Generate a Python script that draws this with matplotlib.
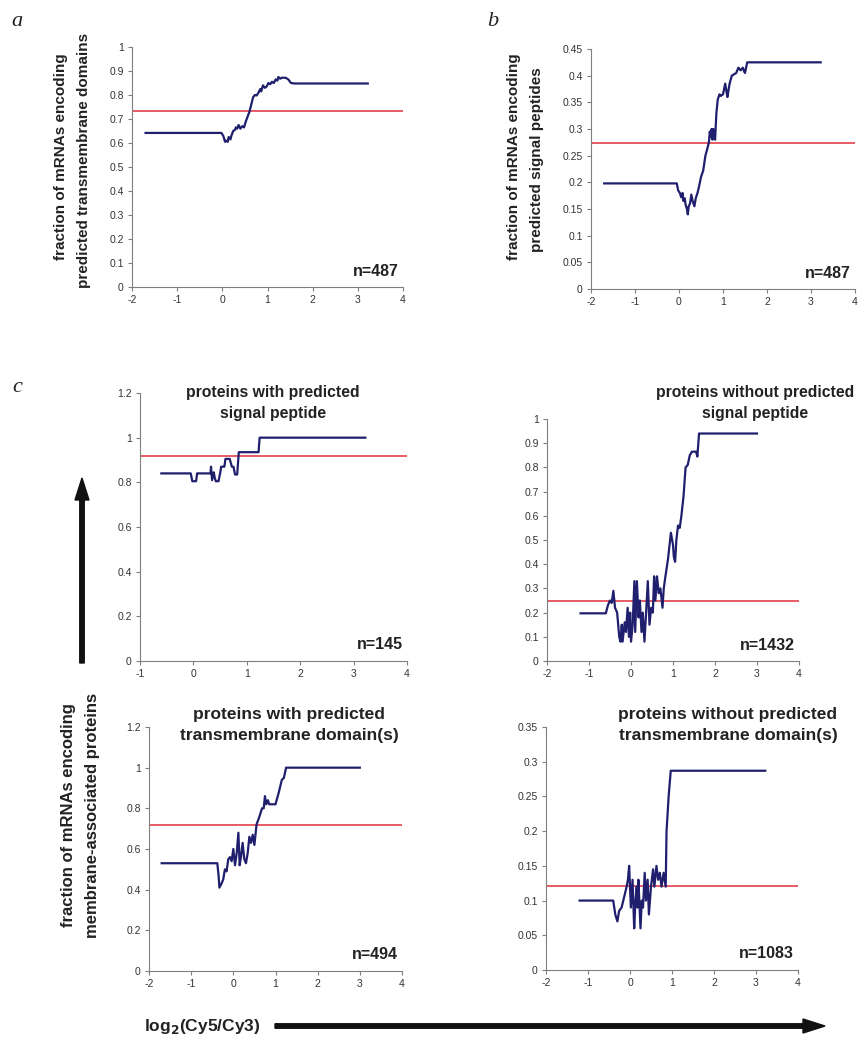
import matplotlib
matplotlib.use("Agg")
import matplotlib.pyplot as plt
from matplotlib.ticker import MultipleLocator

plt.rcParams['font.family'] = ['Liberation Sans', 'DejaVu Sans']
plt.rcParams['axes.unicode_minus'] = False

# panel a: transmembrane domains, all mRNAs
a_x = [-1.7, -0.02, 0.02, 0.06, 0.08, 0.12, 0.14, 0.18, 0.2, 0.24, 0.28, 0.3, 0.33, 0.36,
       0.4, 0.44, 0.48, 0.52, 0.56, 0.6, 0.64, 0.68, 0.72, 0.76, 0.8, 0.84, 0.86, 0.9, 0.94,
       0.98, 1.02, 1.06, 1.1, 1.14, 1.18, 1.22, 1.24, 1.28, 1.32, 1.4, 1.46, 1.52, 1.6, 3.22]
a_y = [0.642, 0.642, 0.63, 0.605, 0.61, 0.605, 0.625, 0.615, 0.63, 0.65, 0.655, 0.665, 0.66,
       0.675, 0.66, 0.67, 0.665, 0.69, 0.71, 0.73, 0.76, 0.79, 0.8, 0.798, 0.81, 0.825, 0.815,
       0.84, 0.83, 0.835, 0.85, 0.845, 0.855, 0.85, 0.865, 0.86, 0.875, 0.868, 0.872, 0.872,
       0.865, 0.85, 0.848, 0.848]
a_ref = 0.733

# panel b: signal peptides, all mRNAs
b_x = [-1.7, -0.05, -0.02, 0.02, 0.05, 0.08, 0.1, 0.13, 0.15, 0.18, 0.2, 0.22, 0.25, 0.28,
       0.31, 0.35, 0.38, 0.42, 0.45, 0.5, 0.55, 0.6, 0.64, 0.68, 0.7, 0.72, 0.74, 0.76, 0.78,
       0.8, 0.82, 0.85, 0.88, 0.92, 0.95, 1.0, 1.05, 1.08, 1.1, 1.15, 1.2, 1.3, 1.35, 1.4,
       1.45, 1.48, 1.5, 1.55, 3.22]
b_y = [0.198, 0.198, 0.185, 0.18, 0.172, 0.18, 0.165, 0.17, 0.158, 0.15, 0.14, 0.155, 0.16,
       0.177, 0.165, 0.155, 0.17, 0.18, 0.19, 0.21, 0.222, 0.25, 0.262, 0.275, 0.295, 0.285,
       0.3, 0.28, 0.3, 0.29, 0.28, 0.33, 0.355, 0.365, 0.362, 0.365, 0.385, 0.37, 0.36, 0.385,
       0.4, 0.405, 0.415, 0.41, 0.415, 0.408, 0.405, 0.425, 0.425]
b_ref = 0.273

# panel c, top left: with predicted signal peptide
c1_x = [-0.6, -0.05, -0.02, 0.05, 0.07, 0.32, 0.33, 0.35, 0.38, 0.4, 0.42, 0.47, 0.5, 0.52,
        0.58, 0.6, 0.68, 0.72, 0.75, 0.78, 0.82, 0.85, 1.22, 1.24, 3.22]
c1_y = [0.84, 0.84, 0.805, 0.805, 0.84, 0.84, 0.87, 0.81, 0.845, 0.82, 0.805, 0.805, 0.84,
        0.87, 0.87, 0.905, 0.905, 0.87, 0.87, 0.835, 0.835, 0.935, 0.935, 1.0, 1.0]
c1_ref = 0.918

# panel c, top right: without predicted signal peptide
c2_x = [-1.2, -0.6, -0.55, -0.5, -0.46, -0.42, -0.38, -0.33, -0.28, -0.25, -0.22, -0.2,
        -0.15, -0.12, -0.08, -0.05, -0.02, 0.0, 0.04, 0.08, 0.1, 0.14, 0.18, 0.21, 0.25, 0.28,
        0.32, 0.36, 0.4, 0.44, 0.48, 0.52, 0.55, 0.58, 0.62, 0.66, 0.7, 0.75, 0.78, 0.82,
        0.88, 0.95, 1.0, 1.02, 1.05, 1.08, 1.12, 1.16, 1.2, 1.25, 1.3, 1.35, 1.4, 1.45,
        1.55, 1.58, 1.62, 3.0]
c2_y = [0.197, 0.197, 0.23, 0.25, 0.24, 0.29, 0.22, 0.2, 0.1, 0.08, 0.15, 0.08, 0.16, 0.12,
        0.22, 0.1, 0.2, 0.08, 0.15, 0.33, 0.12, 0.33, 0.18, 0.25, 0.12, 0.2, 0.08, 0.2, 0.33,
        0.15, 0.22, 0.2, 0.35, 0.25, 0.35, 0.28, 0.3, 0.22, 0.3, 0.35, 0.42, 0.53, 0.48,
        0.43, 0.41, 0.5, 0.56, 0.55, 0.6, 0.68, 0.8, 0.81, 0.85, 0.865, 0.865, 0.845, 0.94,
        0.94]
c2_ref = 0.25

# panel c, bottom left: with predicted transmembrane domain(s)
c3_x = [-1.7, -0.38, -0.35, -0.33, -0.28, -0.24, -0.2, -0.16, -0.12, -0.08, -0.04, 0.0,
        0.04, 0.08, 0.12, 0.15, 0.18, 0.22, 0.26, 0.3, 0.34, 0.38, 0.42, 0.46, 0.5, 0.55,
        0.62, 0.68, 0.72, 0.75, 0.78, 0.82, 0.85, 1.0, 1.08, 1.15, 1.2, 1.25, 3.0]
c3_y = [0.53, 0.53, 0.47, 0.41, 0.43, 0.45, 0.5, 0.49, 0.55, 0.56, 0.54, 0.6, 0.52, 0.58,
        0.68, 0.52, 0.56, 0.63, 0.55, 0.53, 0.58, 0.66, 0.63, 0.67, 0.62, 0.72, 0.76, 0.8,
        0.8, 0.86, 0.82, 0.84, 0.82, 0.82, 0.88, 0.94, 0.95, 1.0, 1.0]
c3_ref = 0.72

# panel c, bottom right: without predicted transmembrane domain(s)
c4_x = [-1.2, -0.4, -0.35, -0.3, -0.26, -0.2, -0.16, -0.12, -0.08, -0.05, -0.02, 0.02,
        0.06, 0.1, 0.13, 0.16, 0.18, 0.2, 0.25, 0.28, 0.31, 0.35, 0.38, 0.42, 0.45, 0.5,
        0.55, 0.58, 0.63, 0.67, 0.71, 0.75, 0.8, 0.85, 0.87, 0.92, 0.97, 3.22]
c4_y = [0.1, 0.1, 0.08, 0.07, 0.085, 0.09, 0.1, 0.11, 0.12, 0.13, 0.15, 0.09, 0.13, 0.06,
        0.1, 0.12, 0.09, 0.13, 0.06, 0.1, 0.09, 0.14, 0.1, 0.13, 0.08, 0.12, 0.145, 0.12,
        0.15, 0.13, 0.14, 0.12, 0.14, 0.12, 0.2, 0.25, 0.287, 0.287]
c4_ref = 0.121

W, H = 867, 1040
navy = '#1f1f6e'
red = '#e0303c'
grey = '#7f7f7f'

fig = plt.figure(figsize=(W / 100, H / 100), dpi=100)


def px_axes(x0, x1, y_top, y_bot):
    return fig.add_axes([x0 / W, 1 - y_bot / H, (x1 - x0) / W, (y_bot - y_top) / H])


def style(ax, xlim, ylim, ystep):
    ax.set_xlim(*xlim)
    ax.set_ylim(*ylim)
    ax.xaxis.set_major_locator(MultipleLocator(1))
    ax.yaxis.set_major_locator(MultipleLocator(ystep))
    ax.yaxis.set_major_formatter(plt.FuncFormatter(lambda v, p: ('%.2f' % v).rstrip('0').rstrip('.')))
    for s in ['top', 'right']:
        ax.spines[s].set_visible(False)
    for s in ['left', 'bottom']:
        ax.spines[s].set_color(grey)
        ax.spines[s].set_linewidth(0.8)
    ax.tick_params(direction='out', length=3, width=0.8, color=grey,
                   labelsize=7.5, labelcolor='#333333', pad=3)


def panel(ax, x, y, ref, n):
    ax.plot(x, y, color=navy, lw=1.6, zorder=3)
    ax.axhline(ref, color=red, lw=1.1, zorder=2)
    ax.text(0.985, 0.035, n, transform=ax.transAxes, ha='right', va='bottom',
            fontsize=11.5, fontweight='bold', color='#222222')


# panel a
ax = px_axes(132, 403, 47, 287)
style(ax, (-2, 4), (0, 1), 0.1)
panel(ax, a_x, a_y, a_ref, 'n=487')

# panel b
ax = px_axes(591, 855, 49, 289)
style(ax, (-2, 4), (0, 0.45), 0.05)
panel(ax, b_x, b_y, b_ref, 'n=487')

# panel c
ax = px_axes(140, 407, 393, 661)
style(ax, (-1, 4), (0, 1.2), 0.2)
panel(ax, c1_x, c1_y, c1_ref, 'n=145')

ax = px_axes(547, 799, 419, 661)
style(ax, (-2, 4), (0, 1), 0.1)
panel(ax, c2_x, c2_y, c2_ref, 'n=1432')

ax = px_axes(149, 402, 727, 971)
style(ax, (-2, 4), (0, 1.2), 0.2)
panel(ax, c3_x, c3_y, c3_ref, 'n=494')

ax = px_axes(546, 798, 727, 970)
style(ax, (-2, 4), (0, 0.35), 0.05)
panel(ax, c4_x, c4_y, c4_ref, 'n=1083')


def ftext(px, py, s, **kw):
    fig.text(px / W, 1 - py / H, s, **kw)


bold = dict(fontweight='bold', color='#222222', ha='center', va='center')

# panel titles
ftext(273, 403, 'proteins with predicted\nsignal peptide', fontsize=11.3,
      linespacing=1.5, **bold)
ftext(755, 403, 'proteins without predicted\nsignal peptide', fontsize=11.3,
      linespacing=1.5, **bold)
ftext(289, 725, 'proteins with predicted\ntransmembrane domain(s)', fontsize=12.5,
      linespacing=1.5, **bold)
ftext(728, 725, 'proteins without predicted\ntransmembrane domain(s)', fontsize=12.5,
      linespacing=1.5, **bold)

# y labels
ftext(61, 157, 'fraction of mRNAs encoding', rotation=90, fontsize=11, **bold)
ftext(84, 160, 'predicted transmembrane domains', rotation=90, fontsize=11, **bold)
ftext(514, 157, 'fraction of mRNAs encoding', rotation=90, fontsize=11, **bold)
ftext(537, 160, 'predicted signal peptides', rotation=90, fontsize=11, **bold)
ftext(68, 815, 'fraction of mRNAs encoding', rotation=90, fontsize=12, **bold)
ftext(92, 815, 'membrane-associated proteins', rotation=90, fontsize=12, **bold)

# panel letters
letter = dict(fontsize=16, fontstyle='italic', family=['Liberation Serif', 'DejaVu Serif'],
              ha='center', va='center', color='#222222')
ftext(17, 22, 'a', **letter)
ftext(493, 22, 'b', **letter)
ftext(17, 388, 'c', **letter)

# x label and arrows
ftext(202, 1026, r'log$_\mathbf{2}$(Cy5/Cy3)', fontsize=12.5, **bold)
fig.add_artist(matplotlib.patches.FancyArrow(
    275 / W, 1 - 1026 / H, 550 / W, 0, width=4.5 / H, head_width=14 / H,
    head_length=22 / W, length_includes_head=True, color='#111111',
    transform=fig.transFigure))
fig.add_artist(matplotlib.patches.FancyArrow(
    82 / W, 1 - 663 / H, 0, 185 / H, width=4.5 / W, head_width=14 / W,
    head_length=22 / H, length_includes_head=True, color='#111111',
    transform=fig.transFigure))

fig.savefig('out.png', dpi=100)
